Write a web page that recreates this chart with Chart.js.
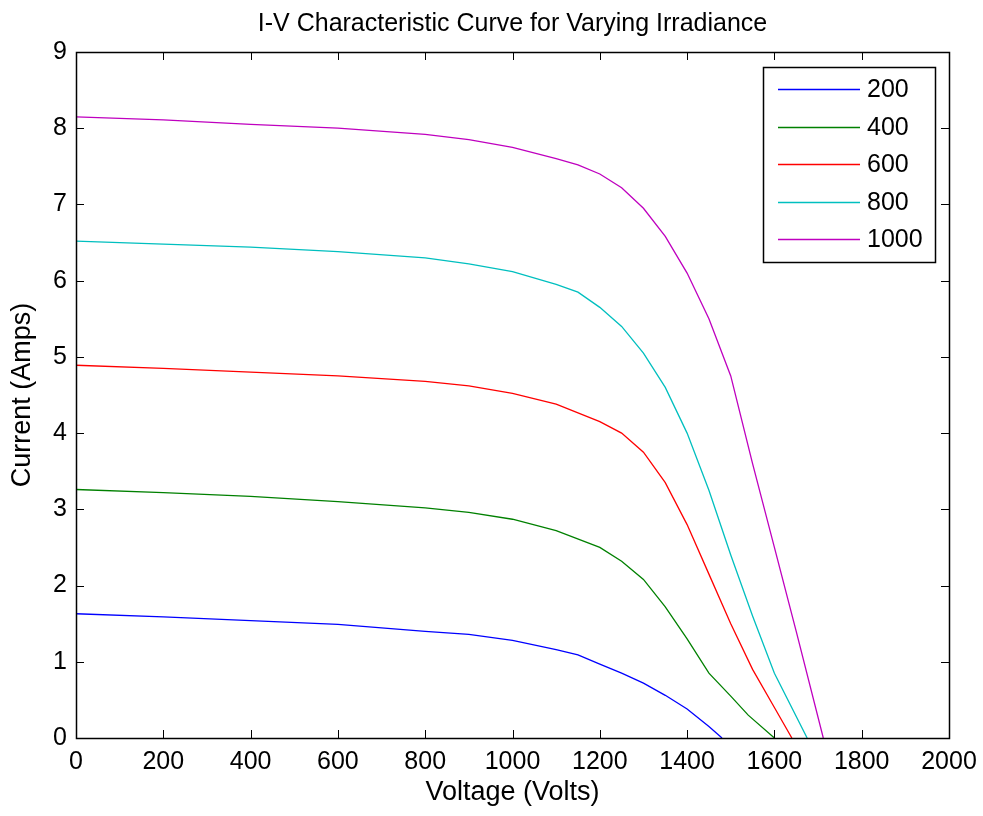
<!DOCTYPE html>
<html>
<head>
<meta charset="utf-8">
<title>I-V Characteristic Curve</title>
<script src="https://cdn.jsdelivr.net/npm/chart.js@4.4.1/dist/chart.umd.min.js"></script>
<style>
  html, body { margin: 0; padding: 0; background: #fff; }
  #wrap { width: 983px; height: 816px; }
</style>
</head>
<body>
<div id="wrap"><canvas id="ivChart"></canvas></div>
<script>
// irradiance levels (W/m2) for each curve
var irradiance = ["200", "400", "600", "800", "1000"];
var lineColors = ["#0000ff", "#008000", "#ff0000", "#00bfbf", "#bf00bf"];

// voltage samples (V) and current (A) per curve
var volts200  = [0, 200, 400, 600, 800, 900, 1000, 1100, 1150, 1200, 1250, 1300, 1350, 1400, 1450, 1480];
var amps200   = [1.63, 1.59, 1.54, 1.49, 1.40, 1.36, 1.28, 1.16, 1.09, 0.97, 0.85, 0.72, 0.56, 0.38, 0.15, 0];

var volts400  = [0, 200, 400, 600, 800, 900, 1000, 1100, 1200, 1250, 1300, 1350, 1400, 1450, 1500, 1540, 1600];
var amps400   = [3.26, 3.22, 3.17, 3.10, 3.02, 2.96, 2.87, 2.72, 2.50, 2.32, 2.08, 1.72, 1.30, 0.85, 0.55, 0.30, 0];

var volts600  = [0, 200, 400, 600, 800, 900, 1000, 1100, 1200, 1250, 1300, 1350, 1400, 1450, 1500, 1550, 1600, 1640];
var amps600   = [4.89, 4.85, 4.80, 4.75, 4.68, 4.62, 4.52, 4.38, 4.15, 4.00, 3.75, 3.35, 2.80, 2.15, 1.50, 0.90, 0.40, 0];

var volts800  = [0, 200, 400, 600, 800, 900, 1000, 1100, 1150, 1200, 1250, 1300, 1350, 1400, 1450, 1500, 1550, 1600, 1675];
var amps800   = [6.52, 6.48, 6.44, 6.38, 6.30, 6.22, 6.12, 5.95, 5.85, 5.65, 5.40, 5.05, 4.60, 4.00, 3.25, 2.40, 1.60, 0.85, 0];

var volts1000 = [0, 200, 400, 600, 800, 900, 1000, 1100, 1150, 1200, 1250, 1300, 1350, 1400, 1450, 1500, 1550, 1600, 1650, 1712];
var amps1000  = [8.15, 8.11, 8.05, 8.00, 7.92, 7.85, 7.75, 7.60, 7.52, 7.40, 7.22, 6.95, 6.58, 6.10, 5.50, 4.75, 3.60, 2.50, 1.40, 0];

var voltSeries = [volts200, volts400, volts600, volts800, volts1000];
var ampSeries  = [amps200, amps400, amps600, amps800, amps1000];

var FONT = "'Liberation Sans', Arial, sans-serif";

function toPoints(xs, ys) {
  var pts = [];
  for (var i = 0; i < xs.length; i++) pts.push({x: xs[i], y: ys[i]});
  return pts;
}

var datasets = irradiance.map(function (lbl, i) {
  return {
    label: lbl,
    data: toPoints(voltSeries[i], ampSeries[i]),
    borderColor: lineColors[i],
    borderWidth: 1.3,
    pointRadius: 0,
    tension: 0,
    fill: false
  };
});

// box around the axes plus inward tick marks on all four sides
var boxAxes = {
  id: "boxAxes",
  afterDraw: function (chart) {
    var ctx = chart.ctx, a = chart.chartArea;
    var xs = chart.scales.x, ys = chart.scales.y;
    var len = 8;
    ctx.save();
    ctx.strokeStyle = "#000";
    ctx.lineWidth = 1;
    ctx.beginPath();
    xs.ticks.forEach(function (t) {
      var px = Math.round(xs.getPixelForValue(t.value)) + 0.5;
      ctx.moveTo(px, a.bottom); ctx.lineTo(px, a.bottom - len);
      ctx.moveTo(px, a.top); ctx.lineTo(px, a.top + len);
    });
    ys.ticks.forEach(function (t) {
      var py = Math.round(ys.getPixelForValue(t.value)) + 0.5;
      ctx.moveTo(a.left, py); ctx.lineTo(a.left + len, py);
      ctx.moveTo(a.right, py); ctx.lineTo(a.right - len, py);
    });
    ctx.stroke();
    ctx.lineWidth = 1.5;
    ctx.strokeRect(Math.round(a.left) + 0.5, Math.round(a.top) + 0.5,
                   Math.round(a.right - a.left), Math.round(a.bottom - a.top));
    ctx.restore();
  }
};

// legend drawn inside the top-right corner of the plot
var insideLegend = {
  id: "insideLegend",
  afterDraw: function (chart) {
    var ctx = chart.ctx, a = chart.chartArea;
    var w = 172, h = 195;
    var left = a.right - 14 - w, top = a.top + 15;
    ctx.save();
    ctx.fillStyle = "#fff";
    ctx.fillRect(left, top, w, h);
    ctx.strokeStyle = "#000";
    ctx.lineWidth = 1.5;
    ctx.strokeRect(Math.round(left) + 0.5, Math.round(top) + 0.5, w, h);
    ctx.font = "25px " + FONT;
    ctx.textBaseline = "middle";
    ctx.textAlign = "left";
    chart.data.datasets.forEach(function (ds, i) {
      var y = Math.round(top + 22 + i * 37.5) + 0.5;
      ctx.strokeStyle = ds.borderColor;
      ctx.lineWidth = 1.3;
      ctx.beginPath();
      ctx.moveTo(left + 15, y);
      ctx.lineTo(left + 97, y);
      ctx.stroke();
      ctx.fillStyle = "#000";
      ctx.fillText(ds.label, left + 104, y + 1);
    });
    ctx.restore();
  }
};

new Chart("ivChart", {
  type: "line",
  data: { datasets: datasets },
  plugins: [boxAxes, insideLegend],
  options: {
    responsive: true,
    maintainAspectRatio: false,
    animation: false,
    layout: { padding: { left: 0, right: 34, top: 0, bottom: 0 } },
    plugins: {
      legend: { display: false },
      tooltip: { enabled: false },
      title: {
        display: true,
        fullSize: false,
        text: "I-V Characteristic Curve for Varying Irradiance",
        color: "#000",
        font: { family: FONT, size: 25, weight: "normal", lineHeight: 1.2 },
        padding: { top: 9, bottom: 13 }
      }
    },
    scales: {
      x: {
        type: "linear",
        min: 0,
        max: 2000,
        grid: { display: false, drawTicks: false },
        border: { display: false },
        ticks: {
          stepSize: 200,
          color: "#000",
          padding: 9,
          maxRotation: 0,
          font: { family: FONT, size: 25 },
          callback: function (v) { return String(v); }
        },
        title: {
          display: true,
          text: "Voltage (Volts)",
          color: "#000",
          font: { family: FONT, size: 27, lineHeight: 1.2 },
          padding: { top: 0, bottom: 7 }
        },
        afterFit: function (scale) {
          scale.height = 78;
          scale.paddingLeft = 0;
          scale.paddingRight = 0;
        }
      },
      y: {
        type: "linear",
        min: 0,
        max: 9,
        grid: { display: false, drawTicks: false },
        border: { display: false },
        ticks: {
          stepSize: 1,
          color: "#000",
          padding: 9,
          font: { family: FONT, size: 25 }
        },
        title: {
          display: true,
          text: "Current (Amps)",
          color: "#000",
          font: { family: FONT, size: 27, lineHeight: 1.2 },
          padding: { top: 6, bottom: 0 }
        },
        afterFit: function (scale) {
          scale.width = 76;
          scale.paddingTop = 0;
          scale.paddingBottom = 0;
        }
      }
    }
  }
});
</script>
</body>
</html>
